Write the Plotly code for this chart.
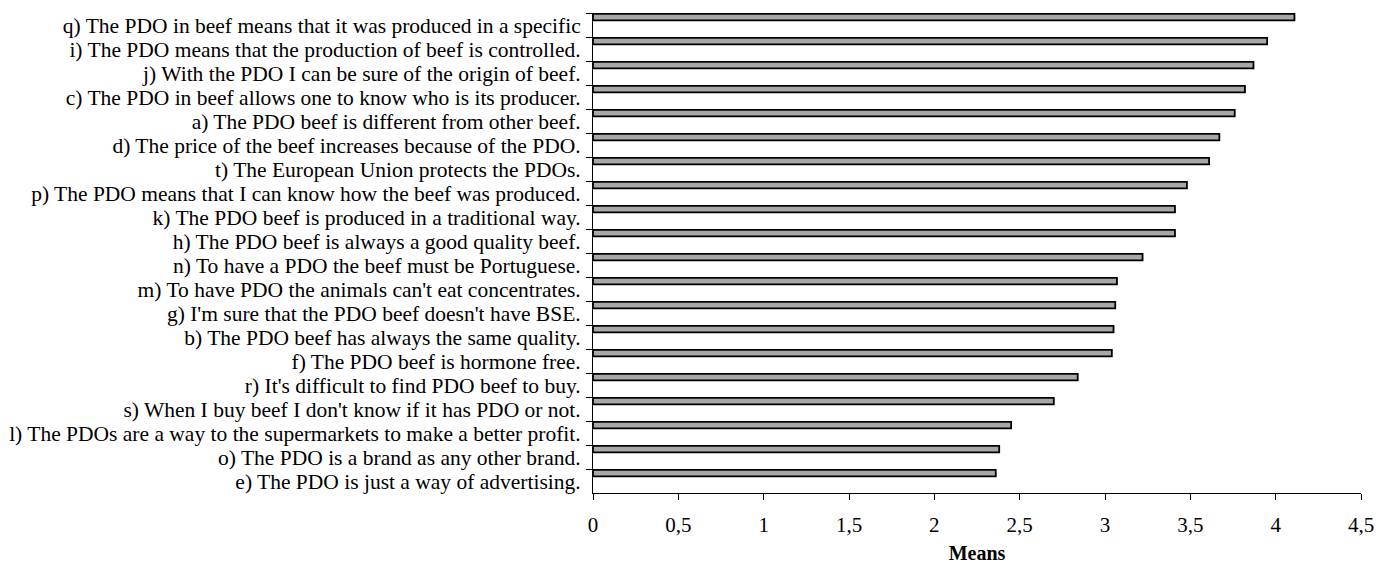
import plotly.graph_objects as go

statements = [
    "q) The PDO in beef means that it was produced in a specific",
    "i) The PDO means that the production of beef is controlled.",
    "j) With the PDO I can be sure of the origin of beef.",
    "c) The PDO in beef allows one to know who is its producer.",
    "a) The PDO beef is different from other beef.",
    "d) The price of the beef increases because of the PDO.",
    "t) The European Union protects the PDOs.",
    "p) The PDO means that I can know how the beef was produced.",
    "k) The PDO beef is produced in a traditional way.",
    "h) The PDO beef is always a good quality beef.",
    "n) To have a PDO the beef must be Portuguese.",
    "m) To have PDO the animals can't eat concentrates.",
    "g) I'm sure that the PDO beef doesn't have BSE.",
    "b) The PDO beef has always the same quality.",
    "f) The PDO beef is hormone free.",
    "r) It's difficult to find PDO beef to buy.",
    "s) When I buy beef I don't know if it has PDO or not.",
    "l) The PDOs are a way to the supermarkets to make a better profit.",
    "o) The PDO is a brand as any other brand.",
    "e) The PDO is just a way of advertising.",
]
means = [4.11, 3.95, 3.87, 3.82, 3.76, 3.67, 3.61, 3.48, 3.41, 3.41,
         3.22, 3.07, 3.06, 3.05, 3.04, 2.84, 2.70, 2.45, 2.38, 2.36]
x_ticks = [0, 0.5, 1, 1.5, 2, 2.5, 3, 3.5, 4, 4.5]

FONT = "Liberation Serif, Times New Roman, serif"

fig = go.Figure(
    go.Bar(
        x=means,
        y=statements,
        orientation="h",
        width=0.27,
        offset=-0.46,
        marker=dict(color="#a8a8a8", line=dict(color="black", width=1.8)),
        hoverinfo="x+y",
    )
)

fig.update_layout(
    width=1388,
    height=566,
    margin=dict(l=585, r=35, t=5, b=81, autoexpand=False),
    paper_bgcolor="white",
    plot_bgcolor="white",
    separators=",.",
    showlegend=False,
    font=dict(family=FONT, size=21, color="black"),
)

fig.update_xaxes(
    range=[0, 4.5],
    tickvals=x_ticks,
    showgrid=False,
    zeroline=False,
    showline=True,
    linecolor="black",
    linewidth=1,
    ticks="outside",
    ticklen=6,
    tickcolor="black",
    ticklabelstandoff=7,
    tickfont=dict(family=FONT, size=21),
    title=dict(text="<b>Means</b>", font=dict(family=FONT, size=20), standoff=9),
    automargin=False,
)

fig.update_yaxes(
    autorange="reversed",
    type="category",
    tickmode="linear",
    tick0=0,
    dtick=1,
    tickson="boundaries",
    showgrid=False,
    showline=True,
    linecolor="black",
    linewidth=1,
    ticks="outside",
    ticklen=6,
    tickcolor="black",
    ticklabelstandoff=7,
    tickfont=dict(family=FONT, size=21.5),
    automargin=False,
)

fig.write_html("out.html")
